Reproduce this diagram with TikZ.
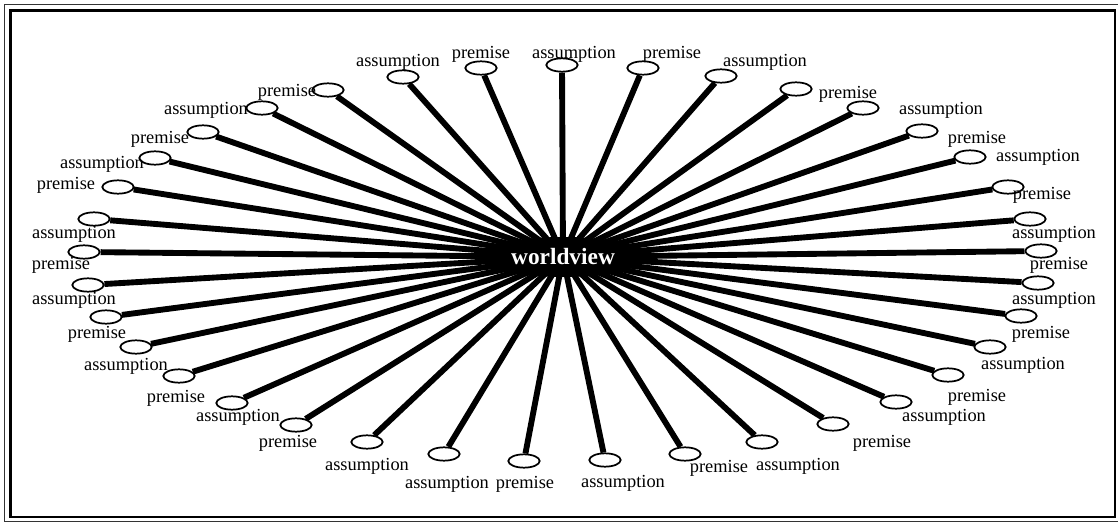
\documentclass[tikz,border=0pt]{standalone}
\usepackage{fontspec}
\setmainfont{Liberation Serif}
\usetikzlibrary{shapes.geometric,backgrounds}

\tikzset{
  leaf/.style={ellipse, draw, line width=1.3pt, fill=white,
    minimum width=23.5pt, minimum height=10pt, inner sep=0pt},
  lbl/.style={font=\fontsize{13.8}{16}\selectfont, inner sep=0pt,
    text height=1.5ex, text depth=.25ex, yshift=-2pt},
  hubnode/.style={ellipse, fill=black, text=white, inner sep=0pt,
    minimum width=124pt, minimum height=30pt,
    font=\fontsize{17.5}{20}\selectfont\bfseries},
  spoke/.style={line width=4.4pt},
}

\begin{document}
\begin{tikzpicture}[x=0.75pt, y=-0.75pt]
  \clip (0,0) rectangle (1118,524);

  % Frame
  \draw[line width=1pt, black!80] (4.8,4.8) rectangle (1121,521.5);
  \draw[line width=2.2pt] (10.7,10.7) rectangle (1115,517);

  % Hub
  \node[hubnode] (hub) at (563,257) {worldview};

  % Top and right side
  \node[leaf] (e1)  at (562,65)  {};
  \node[leaf] (e2)  at (643,68)  {};
  \node[leaf] (e3)  at (721,76)  {};
  \node[leaf] (e4)  at (796,89)  {};
  \node[leaf] (e5)  at (863,108) {};
  \node[leaf] (e6)  at (922,131) {};
  \node[leaf] (e7)  at (970,157) {};
  \node[leaf] (e8)  at (1008,187) {};
  \node[leaf] (e9)  at (1030,219) {};
  \node[leaf] (e10) at (1041,251) {};
  \node[leaf] (e11) at (1038,283) {};
  \node[leaf] (e12) at (1021,316) {};
  \node[leaf] (e13) at (990,347) {};
  \node[leaf] (e14) at (948,375) {};
  \node[leaf] (e15) at (896,402) {};
  \node[leaf] (e16) at (833,424) {};
  \node[leaf] (e17) at (762,442) {};
  \node[leaf] (e18) at (685,454) {};
  \node[leaf] (e19) at (605,460) {};

  % Bottom and left side
  \node[leaf] (e20) at (524,461) {};
  \node[leaf] (e21) at (444,454) {};
  \node[leaf] (e22) at (367,442) {};
  \node[leaf] (e23) at (296,425) {};
  \node[leaf] (e24) at (232,403) {};
  \node[leaf] (e25) at (179,376) {};
  \node[leaf] (e26) at (136,347) {};
  \node[leaf] (e27) at (106,317) {};
  \node[leaf] (e28) at (88,285)  {};
  \node[leaf] (e29) at (84,252)  {};
  \node[leaf] (e30) at (94,219)  {};
  \node[leaf] (e31) at (118,187) {};
  \node[leaf] (e32) at (155,158) {};
  \node[leaf] (e33) at (203,132) {};
  \node[leaf] (e34) at (262,108) {};
  \node[leaf] (e35) at (328,90)  {};
  \node[leaf] (e36) at (403,77)  {};
  \node[leaf] (e37) at (481,68)  {};

  % Labels
  \node[lbl] (t1)  at (574,52)  {assumption};
  \node[lbl] (t2)  at (672,52)  {premise};
  \node[lbl] (t3)  at (765,60)  {assumption};
  \node[lbl] (t4)  at (848,92)  {premise};
  \node[lbl] (t5)  at (941,108) {assumption};
  \node[lbl] (t6)  at (977,137) {premise};
  \node[lbl] (t7)  at (1038,155) {assumption};
  \node[lbl] (t8)  at (1042,193) {premise};
  \node[lbl] (t9)  at (1054,232) {assumption};
  \node[lbl] (t10) at (1059,263) {premise};
  \node[lbl] (t11) at (1054,298) {assumption};
  \node[lbl] (t12) at (1041,332) {premise};
  \node[lbl] (t13) at (1023,363) {assumption};
  \node[lbl] (t14) at (977,395) {premise};
  \node[lbl] (t15) at (944,415) {assumption};
  \node[lbl] (t16) at (882,441) {premise};
  \node[lbl] (t17) at (798,464) {assumption};
  \node[lbl] (t18) at (719,466) {premise};
  \node[lbl] (t19) at (623,481) {assumption};
  \node[lbl] (t20) at (525,482) {premise};
  \node[lbl] (t21) at (447,482) {assumption};
  \node[lbl] (t22) at (367,464) {assumption};
  \node[lbl] (t23) at (288,441) {premise};
  \node[lbl] (t24) at (238,415) {assumption};
  \node[lbl] (t25) at (176,396) {premise};
  \node[lbl] (t26) at (126,364) {assumption};
  \node[lbl] (t27) at (97,332)  {premise};
  \node[lbl] (t28) at (74,298)  {assumption};
  \node[lbl] (t29) at (61,263)  {premise};
  \node[lbl] (t30) at (74,232)  {assumption};
  \node[lbl] (t31) at (66,183)  {premise};
  \node[lbl] (t32) at (102,162) {assumption};
  \node[lbl] (t33) at (160,137) {premise};
  \node[lbl] (t34) at (206,108) {assumption};
  \node[lbl] (t35) at (287,90)  {premise};
  \node[lbl] (t36) at (398,60)  {assumption};
  \node[lbl] (t37) at (481,52)  {premise};

  % Spokes
  \begin{scope}[on background layer]
    \foreach \i in {1,...,37}
      \draw[spoke] (hub.center) -- (e\i);
  \end{scope}

\end{tikzpicture}
\end{document}
